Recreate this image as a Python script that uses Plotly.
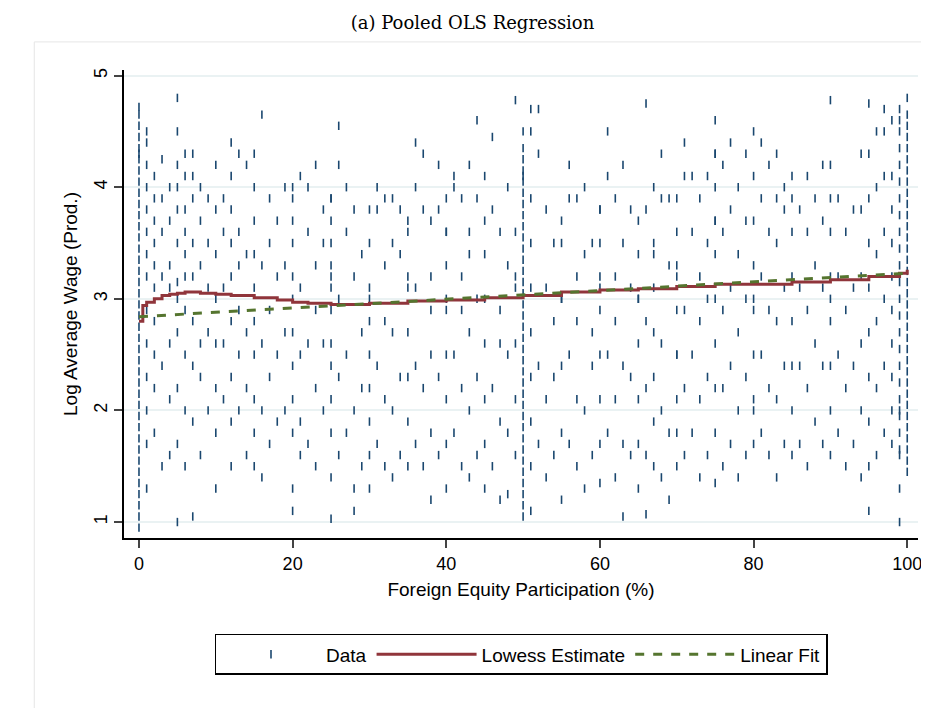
import plotly.graph_objects as go

# Scatter data (foreign equity %, log average wage)
data_x = (
    [0]*40 + [1]*14 + [2]*10 + [3]*6 + [4]*7 + [5]*12 + [6]*10 + [7]*9 + [8]*6 + [9]*5
    + [10]*8 + [11]*5 + [12]*9 + [13]*6 + [14]*5 + [15]*10 + [16]*5 + [17]*5 + [18]*4 + [19]*4
    + [20]*12 + [21]*5 + [22]*4 + [23]*5 + [24]*4 + [25]*14 + [26]*5 + [27]*4 + [28]*5 + [29]*4
    + [30]*10 + [31]*4 + [32]*5 + [33]*5 + [34]*4 + [35]*8 + [36]*5 + [37]*4 + [38]*6 + [39]*4
    + [40]*10 + [41]*4 + [42]*5 + [43]*6 + [44]*5 + [45]*8 + [46]*4 + [47]*5 + [48]*5 + [49]*7
    + [50]*36 + [51]*10 + [52]*4 + [53]*4 + [54]*4 + [55]*7 + [56]*4 + [57]*5 + [58]*4 + [59]*4
    + [60]*10 + [61]*4 + [62]*5 + [63]*5 + [64]*4 + [65]*8 + [66]*6 + [67]*8 + [68]*5 + [69]*4
    + [70]*10 + [71]*5 + [72]*4 + [73]*5 + [74]*5 + [75]*12 + [76]*5 + [77]*5 + [78]*5 + [79]*5
    + [80]*10 + [81]*5 + [82]*5 + [83]*6 + [84]*5 + [85]*8 + [86]*4 + [87]*5 + [88]*4 + [89]*5
    + [90]*10 + [91]*4 + [92]*4 + [93]*4 + [94]*6 + [95]*10 + [96]*6 + [97]*7 + [98]*10 + [99]*26
    + [100]*34
)
data_y = (
    [0.95,1.05,1.15,1.25,1.35,1.45,1.55,1.65,1.75,1.85,1.95,2.05,2.15,2.25,2.35,2.45,2.55,2.65,2.75,2.85,
     2.95,3.05,3.15,3.25,3.35,3.45,3.55,3.65,3.75,3.85,3.95,4.05,4.15,4.25,4.35,4.45,4.55,4.65,4.72,4.3]
    + [1.3,1.7,2.0,2.3,2.6,2.9,3.2,3.4,3.6,3.8,4.0,4.2,4.4,4.5]
    + [1.8,2.2,2.5,2.8,3.1,3.3,3.5,3.7,3.9,4.1]
    + [1.5,2.4,3.2,3.6,3.9,4.25]
    + [1.6,2.1,2.6,3.1,3.3,3.7,4.0]
    + [1.0,1.7,2.2,2.7,3.0,3.15,3.5,3.8,4.0,4.2,4.5,4.8]
    + [1.5,2.0,2.5,2.9,3.2,3.6,3.8,4.1,4.3,3.4]
    + [1.05,1.9,2.4,2.8,3.2,3.5,3.9,4.1,4.3]
    + [1.6,2.3,2.6,3.3,3.7,4.0]
    + [2.0,2.7,3.1,3.5,3.9]
    + [1.3,1.8,2.2,2.6,3.0,3.4,3.8,4.2]
    + [2.1,2.6,3.1,3.6,3.9]
    + [1.5,1.9,2.3,2.8,3.2,3.5,3.8,4.1,4.4]
    + [2.0,2.5,2.9,3.3,3.6,4.3]
    + [1.6,2.2,2.7,3.4,4.2]
    + [1.5,1.8,2.1,2.5,2.8,3.1,3.4,3.7,4.0,4.3]
    + [1.4,2.0,2.6,3.3,4.65]
    + [1.7,2.3,2.9,3.5,3.9]
    + [1.9,2.5,3.2,3.7]
    + [2.0,2.7,3.3,4.0]
    + [1.1,1.3,1.8,2.1,2.4,2.7,3.0,3.2,3.5,3.7,3.9,4.0,4.1,1.6]
    + [1.9,2.5,3.1,3.6,4.0]
    + [1.7,2.6,3.3,4.2]
    + [1.5,2.2,2.9,3.5,3.8]
    + [2.0,2.6,3.2,3.9]
    + [1.03,1.4,1.8,2.1,2.4,2.6,2.9,3.1,3.3,3.5,3.7,3.9,4.2,4.55]
    + [1.6,2.3,3.0,3.6,4.0]
    + [1.8,2.5,3.2,3.8]
    + [1.1,1.3,2.0,2.7,3.4]
    + [1.5,2.2,3.0,3.8]
    + [1.3,1.6,1.9,2.2,2.5,2.8,3.1,3.5,3.8,4.0]
    + [1.7,2.4,3.3,3.9]
    + [1.5,2.1,2.8,3.5,3.9]
    + [1.4,2.0,2.7,3.4,3.8]
    + [1.6,2.3,3.1,3.7]
    + [1.5,1.9,2.3,2.7,3.2,3.6,4.0,4.4]
    + [1.7,2.4,3.1,3.8,4.3]
    + [1.5,2.2,2.9,3.7]
    + [1.2,1.8,2.5,3.2,3.8,4.2]
    + [1.6,2.3,3.0,3.6]
    + [1.3,1.7,2.1,2.5,2.9,3.3,3.6,3.9,4.1,4.0]
    + [1.8,2.5,3.2,3.9]
    + [1.5,2.2,2.9,3.6,4.2]
    + [1.4,2.0,2.7,3.4,3.9,4.6]
    + [1.6,2.3,3.0,3.7,4.1]
    + [1.3,1.7,2.1,2.6,3.0,3.4,3.8,4.45]
    + [1.5,2.2,2.9,3.6]
    + [1.2,1.9,2.6,3.3,4.0]
    + [1.25,1.8,2.5,3.2,4.78]
    + [1.6,2.1,2.6,3.1,3.6,4.1,4.5]
    + [1.05,1.15,1.25,1.35,1.45,1.55,1.65,1.75,1.85,1.95,2.05,2.15,2.25,2.35,2.45,2.55,2.65,2.75,
       2.85,2.95,3.05,3.15,3.25,3.35,3.45,3.55,3.65,3.75,3.85,3.95,4.05,4.15,4.25,4.35,4.5,4.7]
    + [1.1,1.5,1.9,2.3,2.7,3.1,3.5,3.9,4.3,4.7]
    + [1.7,2.4,3.1,3.8]
    + [1.4,2.1,2.8,3.5]
    + [1.6,2.3,3.0,3.7]
    + [1.2,1.8,2.4,3.0,3.5,3.9,4.2]
    + [1.7,2.5,3.2,3.9]
    + [1.5,2.1,2.8,3.4,4.0]
    + [1.3,2.0,2.7,3.5]
    + [1.6,2.4,3.1,3.8]
    + [1.35,1.7,2.1,2.5,2.9,3.2,3.5,3.8,4.1,4.5]
    + [1.8,2.5,3.2,3.9]
    + [1.4,2.1,2.8,3.5,4.2]
    + [1.05,1.7,2.4,3.1,3.8]
    + [1.6,2.3,3.0,3.7]
    + [1.3,1.7,2.1,2.6,3.0,3.4,3.8,4.75]
    + [1.07,1.6,2.2,2.8,3.4,4.0]
    + [1.5,1.9,2.3,2.7,3.1,3.5,3.9,4.3]
    + [1.4,2.0,2.6,3.3,3.9]
    + [1.2,1.8,2.5,3.2]
    + [1.5,1.8,2.1,2.5,2.9,3.3,3.6,3.9,4.1,4.4]
    + [1.6,2.2,2.9,3.6,4.1]
    + [1.8,2.5,3.2,3.9]
    + [1.4,2.1,2.8,3.5,4.1]
    + [1.6,2.3,3.0,3.7,4.3]
    + [1.35,1.8,2.2,2.6,3.0,3.4,3.7,4.0,4.3,4.6]
    + [1.5,2.2,2.9,3.6,4.2]
    + [1.7,2.4,3.1,3.8,4.4]
    + [1.4,2.0,2.7,3.4,4.0]
    + [1.6,2.3,3.0,3.7,4.3]
    + [1.7,2.0,2.1,2.5,2.9,3.3,3.7,4.1,4.5,3.0]
    + [1.8,2.5,3.2,3.9,4.4]
    + [1.6,2.2,2.9,3.6,4.2]
    + [1.4,2.1,2.8,3.5,3.9,4.3]
    + [1.7,2.4,3.1,3.8,4.0]
    + [1.6,2.0,2.4,2.8,3.2,3.6,3.9,4.1]
    + [1.7,2.4,3.1,3.8]
    + [1.5,2.2,2.9,3.6,4.1]
    + [1.9,2.6,3.3,3.9]
    + [1.7,2.4,3.1,3.7,4.2]
    + [1.6,2.0,2.4,2.8,3.2,3.6,3.9,4.2,4.78,3.0]
    + [1.8,2.5,3.2,3.9]
    + [1.5,2.2,2.9,3.6]
    + [1.7,2.4,3.1,3.8]
    + [1.4,2.0,2.6,3.2,3.8,4.3]
    + [1.1,1.5,1.9,2.3,2.7,3.1,3.5,3.9,4.3,4.75]
    + [1.6,2.2,2.8,3.4,4.0,4.5]
    + [1.8,2.4,3.0,3.6,4.1,4.5,4.7]
    + [1.7,2.0,2.3,2.6,2.9,3.2,3.5,3.8,4.1,4.6]
    + [1.0,1.3,1.65,1.8,1.95,2.1,2.25,2.4,2.55,2.7,2.85,3.0,3.15,3.3,3.45,3.6,3.75,3.9,4.05,4.2,
       4.35,4.5,4.6,4.7,1.6,2.0]
    + [1.45,1.55,1.65,1.75,1.85,1.95,2.05,2.15,2.25,2.35,2.45,2.55,2.65,2.75,2.85,2.95,3.05,3.15,
       3.25,3.35,3.45,3.55,3.65,3.75,3.85,3.95,4.05,4.15,4.25,4.35,4.45,4.55,4.65,4.8]
)

lowess_x = [0, 0.5, 1, 2, 3, 4, 5, 6, 8, 10, 12, 15, 18, 20, 22, 25, 28, 30, 35, 40, 45, 50, 55, 60, 65, 70, 75, 80, 85, 90, 95, 99, 100]
lowess_y = [2.8, 2.94, 2.97, 3.0, 3.03, 3.04, 3.05, 3.06, 3.05, 3.04, 3.03, 3.01, 2.99, 2.97, 2.96, 2.95, 2.95, 2.96, 2.98, 2.99, 3.01, 3.03, 3.06, 3.08, 3.09, 3.11, 3.13, 3.13, 3.15, 3.17, 3.2, 3.23, 3.26]

linear_x = [0, 100]
linear_y = [2.84, 3.23]

fig = go.Figure()
fig.add_trace(go.Scatter(x=data_x, y=data_y, mode="markers", name="Data",
                         marker=dict(symbol="line-ns", size=6, color="#1a476f",
                                     line=dict(width=1.6, color="#1a476f"))))
fig.add_trace(go.Scatter(x=lowess_x, y=lowess_y, mode="lines", name="Lowess Estimate",
                         line=dict(color="#90353b", width=3, shape="hv")))
fig.add_trace(go.Scatter(x=linear_x, y=linear_y, mode="lines", name="Linear Fit",
                         line=dict(color="#55752f", width=3, dash="dash")))

fig.update_layout(
    width=929, height=708, paper_bgcolor="white", plot_bgcolor="white",
    margin=dict(l=116, r=19, t=62, b=178),
    font=dict(family="Liberation Sans, Arial", size=18, color="black"),
    title=dict(text="(a) Pooled OLS Regression", x=0.5, xanchor="center", y=0.988, yanchor="top",
               font=dict(family="DejaVu Serif, Liberation Serif", size=18)),
    showlegend=True,
    legend=dict(orientation="h", x=0.5, xanchor="center", y=-0.205, yanchor="top",
                bordercolor="black", borderwidth=1.5, font=dict(size=19), itemwidth=100),
    xaxis=dict(range=[-1.95, 101.4], tickvals=[0, 20, 40, 60, 80, 100], showgrid=False,
               zeroline=False, showline=True, linecolor="black", linewidth=2,
               ticks="outside", ticklen=8, tickwidth=1.5,
               title=dict(text="Foreign Equity Participation (%)", standoff=10, font=dict(size=19))),
    yaxis=dict(range=[0.857, 5.05], tickvals=[1, 2, 3, 4, 5], tickangle=-90,
               showgrid=True, gridcolor="#eaf2f3", gridwidth=1.5, zeroline=False,
               showline=True, linecolor="black", linewidth=2,
               ticks="outside", ticklen=8, tickwidth=1.5,
               title=dict(text="Log Average Wage (Prod.)", standoff=8, font=dict(size=19))),
    shapes=[dict(type="rect", xref="paper", yref="paper", x0=-0.113, x1=1.03, y0=-0.43, y1=1.06,
                 line=dict(color="#e6e6e6", width=1))],
)
fig.write_html("out.html")
